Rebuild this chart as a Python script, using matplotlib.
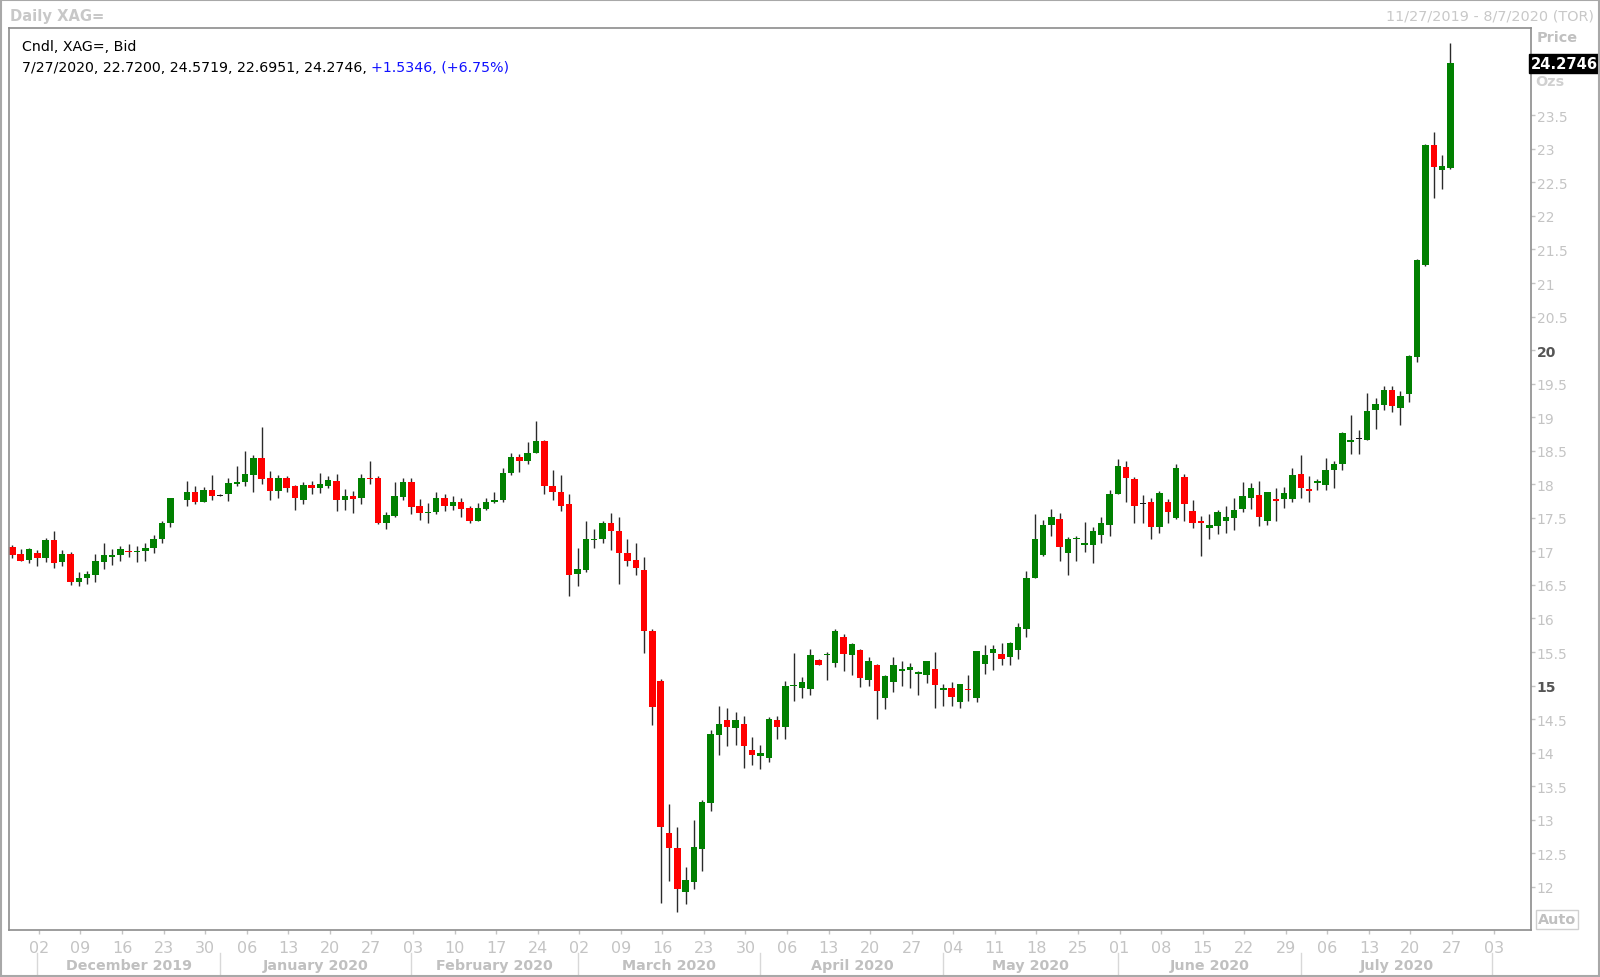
import numpy as np
import pandas as pd
import matplotlib
matplotlib.use('Agg')
import matplotlib.pyplot as plt
import matplotlib.transforms as mtransforms
from matplotlib.patches import Rectangle

# trading days shown (Dec 25 has no candle)
days = pd.bdate_range('2019-11-27', '2020-07-27')
days = days[days != pd.Timestamp('2019-12-25')]

opens = [
    17.07, 16.96, 16.87,                                   # Nov
    16.97, 16.90, 17.17, 16.84, 16.96, 16.55, 16.60, 16.65, 16.84, 16.91,
    16.94, 17.01, 16.99, 17.00, 17.05, 17.19, 17.42, 17.76, 17.89, 17.74,
    17.92,                                                 # Dec
    17.83, 17.86, 18.01, 18.03, 18.14, 18.39, 18.09, 17.90, 18.09, 17.97,
    17.77, 17.99, 17.94, 17.98, 18.05, 17.77, 17.82, 17.79, 18.09, 18.09,
    17.43, 17.53, 17.81,                                   # Jan
    18.04, 17.67, 17.57, 17.58, 17.80, 17.67, 17.74, 17.64, 17.46, 17.63,
    17.73, 17.77, 18.17, 18.40, 18.34, 18.47, 18.64, 17.98, 17.89, 17.71,  # Feb
    16.67, 16.72, 17.17, 17.18, 17.42, 17.31, 16.97, 16.87, 16.73, 15.82,
    15.07, 12.81, 12.58, 11.93, 12.07, 12.57, 13.25, 14.27, 14.49, 14.37,
    14.43, 14.04,                                          # Mar
    13.95, 13.92, 14.48, 14.38, 14.99, 14.97, 14.95, 15.38, 15.45, 15.33,
    15.73, 15.46, 15.53, 15.09, 15.30, 14.82, 15.06, 15.22, 15.23, 15.18,
    15.16, 15.25,                                          # Apr
    14.94, 14.96, 14.76, 14.95, 14.81, 15.32, 15.48, 15.47, 15.42, 15.53,
    15.84, 16.61, 16.95, 17.40, 17.48, 16.98, 17.18, 17.10, 17.10, 17.25,
    17.39,                                                 # May
    17.86, 18.26, 18.08, 17.72, 17.74, 17.36, 17.74, 17.50, 18.11, 17.60,
    17.45, 17.35, 17.38, 17.45, 17.50, 17.63, 17.80, 17.84, 17.45, 17.78,
    17.78, 17.78,                                          # Jun
    18.15, 17.93, 18.02, 17.99, 18.21, 18.31, 18.63, 18.68, 18.66, 19.10,
    19.18, 19.41, 19.13, 19.34, 19.90, 21.27, 23.05, 22.68, 22.72,  # Jul
]
highs = [
    17.10, 17.03, 17.05,
    17.02, 17.20, 17.30, 17.02, 16.99, 16.69, 16.71, 16.96, 17.12, 17.03,
    17.08, 17.11, 17.08, 17.12, 17.25, 17.46, 17.79, 18.05, 17.98, 17.96,
    18.14,
    17.85, 18.09, 18.27, 18.50, 18.43, 18.86, 18.20, 18.14, 18.12, 17.99,
    18.04, 18.05, 18.17, 18.12, 18.15, 17.93, 17.90, 18.15, 18.34, 18.12,
    17.58, 18.04, 18.09,
    18.09, 17.78, 17.72, 17.88, 17.86, 17.83, 17.80, 17.67, 17.72, 17.80,
    17.89, 18.24, 18.47, 18.45, 18.63, 18.95, 18.66, 18.21, 18.14, 17.86,
    17.05, 17.46, 17.34, 17.45, 17.57, 17.52, 17.19, 17.12, 16.91, 15.85,
    15.10, 13.23, 12.89, 12.29, 13.00, 13.29, 14.34, 14.70, 14.66, 14.60,
    14.54, 14.23,
    14.12, 14.53, 14.55, 15.07, 15.48, 15.13, 15.55, 15.39, 15.50, 15.84,
    15.77, 15.63, 15.55, 15.42, 15.32, 15.16, 15.42, 15.37, 15.34, 15.22,
    15.37, 15.50,
    15.02, 15.05, 15.03, 15.16, 15.52, 15.61, 15.60, 15.63, 15.65, 15.94,
    16.71, 17.56, 17.47, 17.63, 17.57, 17.22, 17.23, 17.44, 17.36, 17.52,
    17.92,
    18.38, 18.35, 18.11, 17.84, 17.79, 17.90, 17.78, 18.30, 18.15, 17.76,
    17.53, 17.56, 17.62, 17.67, 17.80, 18.03, 18.02, 18.05, 17.89, 17.94,
    17.96, 18.24,
    18.44, 18.12, 18.08, 18.39, 18.34, 18.78, 19.03, 18.81, 19.36, 19.28,
    19.47, 19.47, 19.39, 19.93, 21.36, 23.07, 23.25, 22.91, 24.5719,
]
lows = [
    16.90, 16.85, 16.82,
    16.78, 16.84, 16.75, 16.78, 16.50, 16.49, 16.52, 16.55, 16.74, 16.79,
    16.85, 16.92, 16.84, 16.85, 16.98, 17.13, 17.36, 17.68, 17.70, 17.73,
    17.76,
    17.82, 17.75, 17.97, 17.97, 17.89, 18.01, 17.77, 17.80, 17.88, 17.62,
    17.70, 17.85, 17.87, 17.95, 17.60, 17.62, 17.57, 17.70, 18.00, 17.41,
    17.34, 17.52, 17.76,
    17.55, 17.47, 17.42, 17.56, 17.60, 17.62, 17.52, 17.42, 17.45, 17.61,
    17.72, 17.73, 18.14, 18.18, 18.30, 18.46, 17.85, 17.76, 17.60, 16.34,
    16.48, 16.69, 17.05, 17.12, 17.02, 16.52, 16.78, 16.65, 15.48, 14.41,
    11.76, 12.08, 11.62, 11.74, 11.97, 12.24, 13.13, 13.97, 14.10, 14.12,
    13.77, 13.81,
    13.76, 13.86, 14.20, 14.20, 14.77, 14.81, 14.86, 15.30, 15.09, 15.28,
    15.21, 15.16, 14.98, 14.99, 14.50, 14.65, 14.91, 14.99, 14.97, 14.86,
    15.04, 14.67,
    14.70, 14.69, 14.67, 14.77, 14.76, 15.17, 15.23, 15.31, 15.30, 15.39,
    15.73, 16.60, 16.93, 17.23, 16.85, 16.65, 16.85, 16.99, 16.83, 17.13,
    17.23,
    17.85, 17.73, 17.43, 17.42, 17.19, 17.28, 17.43, 17.48, 17.45, 17.35,
    16.93, 17.19, 17.26, 17.27, 17.32, 17.58, 17.63, 17.38, 17.40, 17.46,
    17.64, 17.73,
    17.80, 17.73, 17.91, 17.92, 17.95, 18.21, 18.45, 18.45, 18.66, 18.83,
    19.11, 19.08, 18.89, 19.22, 19.83, 21.25, 22.26, 22.40, 22.6951,
]
closes = [
    16.94, 16.86, 17.04,
    16.90, 17.17, 16.82, 16.96, 16.55, 16.60, 16.66, 16.86, 16.94, 16.94,
    17.03, 16.99, 17.01, 17.05, 17.19, 17.42, 17.79, 17.89, 17.74, 17.92,
    17.83,
    17.83, 18.02, 18.04, 18.15, 18.39, 18.08, 17.90, 18.09, 17.95, 17.79,
    17.99, 17.94, 18.00, 18.06, 17.77, 17.82, 17.78, 18.09, 18.08, 17.42,
    17.54, 17.82, 18.04,
    17.66, 17.57, 17.59, 17.80, 17.67, 17.74, 17.63, 17.46, 17.64, 17.73,
    17.76, 18.17, 18.40, 18.35, 18.47, 18.64, 17.98, 17.88, 17.68, 16.65,
    16.74, 17.19, 17.19, 17.42, 17.31, 16.97, 16.85, 16.75, 15.82, 14.68,
    12.89, 12.58, 11.97, 12.10, 12.59, 13.26, 14.28, 14.43, 14.38, 14.48,
    14.10, 13.97,
    14.00, 14.50, 14.38, 14.99, 15.00, 15.05, 15.46, 15.31, 15.46, 15.81,
    15.47, 15.62, 15.12, 15.36, 14.92, 15.15, 15.30, 15.25, 15.28, 15.20,
    15.37, 15.01,
    14.96, 14.83, 15.02, 14.93, 15.51, 15.46, 15.55, 15.40, 15.63, 15.88,
    16.61, 17.19, 17.39, 17.51, 17.07, 17.18, 17.20, 17.12, 17.30, 17.42,
    17.86,
    18.28, 18.09, 17.67, 17.72, 17.36, 17.87, 17.58, 18.25, 17.70, 17.43,
    17.43, 17.40, 17.58, 17.51, 17.62, 17.83, 17.95, 17.52, 17.88, 17.75,
    17.87, 18.14,
    17.94, 17.90, 18.05, 18.22, 18.30, 18.77, 18.66, 18.68, 19.09, 19.20,
    19.40, 19.16, 19.31, 19.91, 21.34, 23.05, 22.73, 22.74, 24.2746,
]

month_names = ['December 2019', 'January 2020', 'February 2020', 'March 2020',
               'April 2020', 'May 2020', 'June 2020', 'July 2020']
month_starts = ['2019-12-02', '2020-01-01', '2020-02-03', '2020-03-02',
                '2020-04-01', '2020-05-01', '2020-06-01', '2020-07-01',
                '2020-08-03']
price_ticks = np.arange(12, 24, 0.5)

start = np.datetime64('2019-11-27')
x = np.busday_count(start, days.values.astype('datetime64[D]'))
o, h, l, c = (np.array(v, dtype=float) for v in (opens, highs, lows, closes))

W, H = 1600, 978
fig = plt.figure(figsize=(W / 100, H / 100), dpi=100)
fig.patch.set_facecolor('white')
ax = fig.add_axes([9 / W, 1 - 931 / H, (1531 - 9) / W, (931 - 28.6) / H])

# candles
ax.vlines(x, l, h, color='#2a2a2a', lw=1.0, zorder=1)
body_w = 0.78
up = c > o
dn = c < o
flat = c == o
ax.bar(x[up], np.maximum((c - o)[up], 0.015), bottom=o[up], width=body_w,
       color='#008000', linewidth=0, zorder=2)
ax.bar(x[dn], np.maximum((o - c)[dn], 0.015), bottom=c[dn], width=body_w,
       color='#ff0000', linewidth=0, zorder=2)
ax.bar(x[flat], 0.015, bottom=o[flat] - 0.0075, width=body_w,
       color='#1a1a1a', linewidth=0, zorder=2)

ax.set_xlim(-0.4, 182.7)
ax.set_ylim(11.357, 24.807)

for s in ax.spines.values():
    s.set_color('#8c8c8c')
    s.set_linewidth(1.2)

grey = '#c4c4c4'
# price axis on the right
ax.yaxis.tick_right()
ax.set_yticks(price_ticks)
ax.set_yticklabels(['%g' % v for v in price_ticks])
ax.tick_params(axis='y', length=3, width=1, color=grey, pad=1,
               labelsize=10, labelcolor=grey)
for t, v in zip(ax.get_yticklabels(), price_ticks):
    if v in (15, 20):
        t.set_fontweight('bold')
        t.set_color('#555555')

# day ticks (Mondays)
mondays = pd.date_range('2019-12-02', '2020-08-03', freq='W-MON')
mx = np.busday_count(start, mondays.values.astype('datetime64[D]'))
ax.set_xticks(mx + 0.2)
ax.set_xticklabels(mondays.strftime('%d'))
ax.tick_params(axis='x', length=3, width=1, color=grey, pad=4,
               labelsize=11.5, labelcolor=grey)

# months
sx = np.busday_count(start, np.array(month_starts, dtype='datetime64[D]'))
btr = mtransforms.blended_transform_factory(ax.transData, fig.transFigure)
for px in sx:
    ax.plot([px, px], [1 - 954 / H, 1 - 976 / H], transform=btr,
            color='#d8d8d8', lw=1, clip_on=False)
for name, a, b in zip(month_names, sx[:-1], sx[1:]):
    ax.text((a + b) / 2, 1 - 966 / H, name, transform=btr, ha='center',
            va='center', fontsize=10.3, fontweight='bold', color='#c0c0c0')

# header texts
fig.text(10 / W, 1 - 17 / H, 'Daily XAG=', fontsize=10.6, fontweight='bold',
         color='#c8c8c8', va='center', ha='left')
fig.text(1594 / W, 1 - 17 / H, '11/27/2019 - 8/7/2020 (TOR)', fontsize=10.4,
         color='#c8c8c8', va='center', ha='right')

fig.text(22 / W, 1 - 47 / H, 'Cndl, XAG=, Bid', fontsize=10.2, color='black',
         va='center', ha='left')
t1 = fig.text(22 / W, 1 - 68.5 / H,
              '7/27/2020, 22.7200, 24.5719, 22.6951, 24.2746, ',
              fontsize=10.2, color='black', va='center', ha='left')
ax.annotate('+1.5346, (+6.75%)', xy=(1, 0.5), xycoords=t1, va='center',
            ha='left', fontsize=10.2, color='#1010ff')

# right side labels
fig.text(1537 / W, 1 - 38 / H, 'Price', fontsize=10.4, fontweight='bold',
         color='#c0c0c0', va='center', ha='left')
ytr = mtransforms.blended_transform_factory(fig.transFigure, ax.transData)
ax.text(1564.5 / W, c[-1], '%.4f' % c[-1], transform=ytr, ha='center',
        va='center', fontsize=10.6, fontweight='bold', color='white',
        clip_on=False,
        bbox=dict(boxstyle='square,pad=0.12', fc='black', ec='black'))
fig.text(1535 / W, 1 - 82 / H, 'Ozs', fontsize=10.4, fontweight='bold',
         color='#d0d0d0', va='center', ha='left')
fig.text(1557 / W, 1 - 920.5 / H, 'Auto', fontsize=10.4, fontweight='bold',
         color='#c0c0c0', va='center', ha='center',
         bbox=dict(boxstyle='square,pad=0.15', fc='white', ec='#d0d0d0'))

# outer border
fig.patches.append(Rectangle((0.0008, 0.001), 0.9984, 0.998,
                             transform=fig.transFigure, fill=False,
                             ec='#a8a8a8', lw=1.5))

fig.savefig('out.png', dpi=100)
